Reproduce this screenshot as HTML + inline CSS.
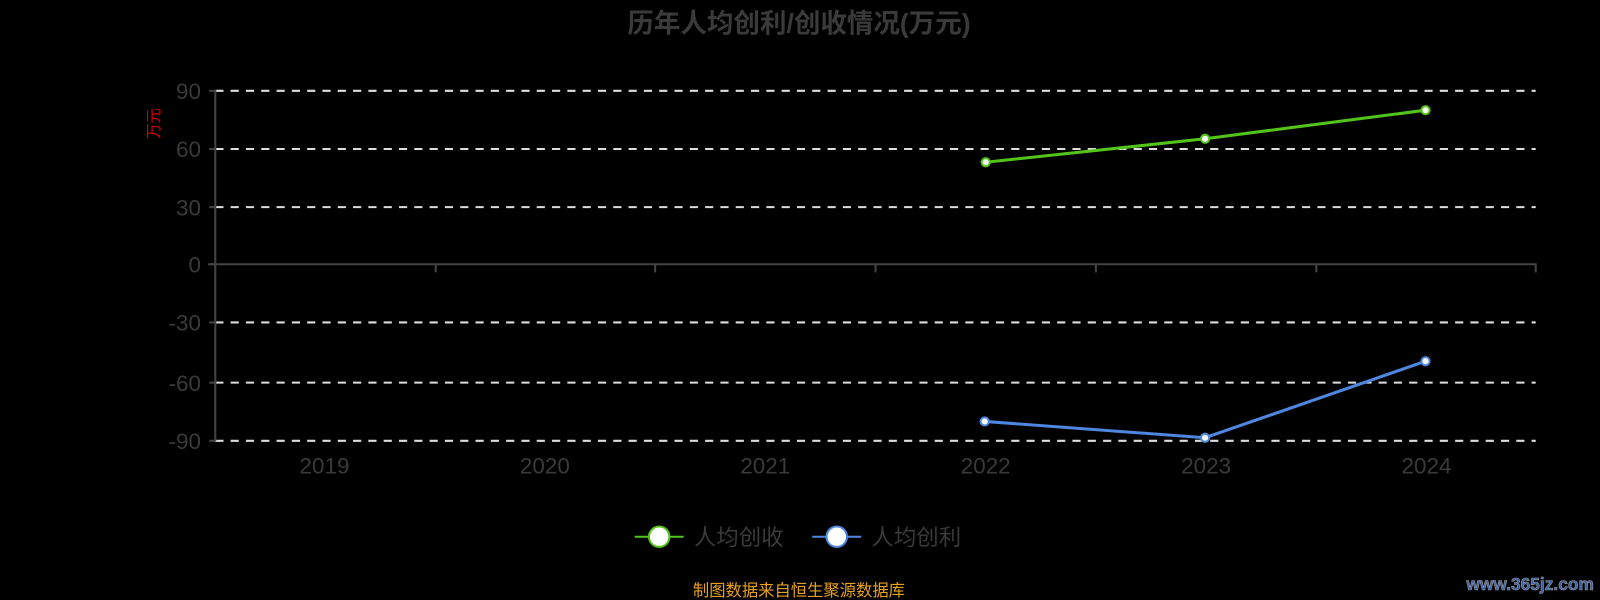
<!DOCTYPE html>
<html><head><meta charset="utf-8"><style>
html,body{margin:0;padding:0;background:#000;width:1600px;height:600px;overflow:hidden}
text{font-family:"Liberation Sans","Noto Sans CJK SC",sans-serif}
</style></head><body>
<svg width="1600" height="600" xmlns="http://www.w3.org/2000/svg">
<rect width="1600" height="600" fill="#000"/>
<g transform="scale(1.0204)">
<text x="783" y="32" text-anchor="middle" font-size="26" font-weight="bold" fill="#3a3a3a">历年人均创利/创收情况(万元)</text>
<g stroke="#ddd" stroke-width="2" stroke-dasharray="8,7">
<line x1="211" y1="89" x2="1505" y2="89"/>
<line x1="211" y1="146" x2="1505" y2="146"/>
<line x1="211" y1="203" x2="1505" y2="203"/>
<line x1="211" y1="316" x2="1505" y2="316"/>
<line x1="211" y1="375" x2="1505" y2="375"/>
<line x1="211" y1="432" x2="1505" y2="432"/>
</g>
<g stroke="#444" stroke-width="2">
<line x1="211" y1="88" x2="211" y2="432"/>
<line x1="205" y1="89" x2="211" y2="89"/><line x1="205" y1="146" x2="211" y2="146"/>
<line x1="205" y1="203" x2="211" y2="203"/><line x1="205" y1="259" x2="211" y2="259"/>
<line x1="205" y1="316" x2="211" y2="316"/><line x1="205" y1="375" x2="211" y2="375"/>
<line x1="205" y1="432" x2="211" y2="432"/>
<line x1="204" y1="259" x2="1506" y2="259"/>
<line x1="427" y1="259" x2="427" y2="267"/><line x1="642" y1="259" x2="642" y2="267"/>
<line x1="858" y1="259" x2="858" y2="267"/><line x1="1074" y1="259" x2="1074" y2="267"/>
<line x1="1290" y1="259" x2="1290" y2="267"/><line x1="1505" y1="259" x2="1505" y2="267"/>
</g>
<g font-size="22" fill="#3a3a3a" text-anchor="end">
<text x="197" y="97">90</text><text x="197" y="154">60</text><text x="197" y="211">30</text>
<text x="197" y="267">0</text><text x="197" y="324">-30</text><text x="197" y="383">-60</text><text x="197" y="440">-90</text>
</g>
<text transform="translate(156,121) rotate(-90)" text-anchor="middle" font-size="15" fill="#d00">万元</text>
<g font-size="22" fill="#3a3a3a" text-anchor="middle">
<text x="318" y="464">2019</text><text x="534" y="464">2020</text><text x="750" y="464">2021</text>
<text x="966" y="464">2022</text><text x="1182" y="464">2023</text><text x="1398" y="464">2024</text>
</g>
<polyline points="966,159 1181,136 1397,108" fill="none" stroke="#52c41a" stroke-width="3"/>
<g fill="#fff" stroke="#52c41a" stroke-width="2">
<circle cx="966" cy="159" r="4"/><circle cx="1181" cy="136" r="4"/><circle cx="1397" cy="108" r="4"/></g>
<polyline points="965,413 1181,429 1397,354" fill="none" stroke="#4e86e0" stroke-width="3"/>
<g fill="#fff" stroke="#4e86e0" stroke-width="2">
<circle cx="965" cy="413" r="4"/><circle cx="1181" cy="429" r="4"/><circle cx="1397" cy="354" r="4"/></g>
<line x1="622" y1="526" x2="670" y2="526" stroke="#52c41a" stroke-width="2"/>
<circle cx="646" cy="526" r="10" fill="#fff" stroke="#52c41a" stroke-width="2"/>
<text x="680" y="534" font-size="22" fill="#3a3a3a">人均创收</text>
<line x1="796" y1="526" x2="844" y2="526" stroke="#4e86e0" stroke-width="2"/>
<circle cx="820" cy="526" r="10" fill="#fff" stroke="#4e86e0" stroke-width="2"/>
<text x="854" y="534" font-size="22" fill="#3a3a3a">人均创利</text>
<text x="783" y="584" text-anchor="middle" font-size="16" fill="#e6a020">制图数据来自恒生聚源数据库</text>
<text x="1562" y="578" text-anchor="end" font-size="17" font-weight="bold" fill="#3b5fa8" stroke="#999" stroke-width="0.6">www.365jz.com</text>
</g>
</svg>
</body></html>
